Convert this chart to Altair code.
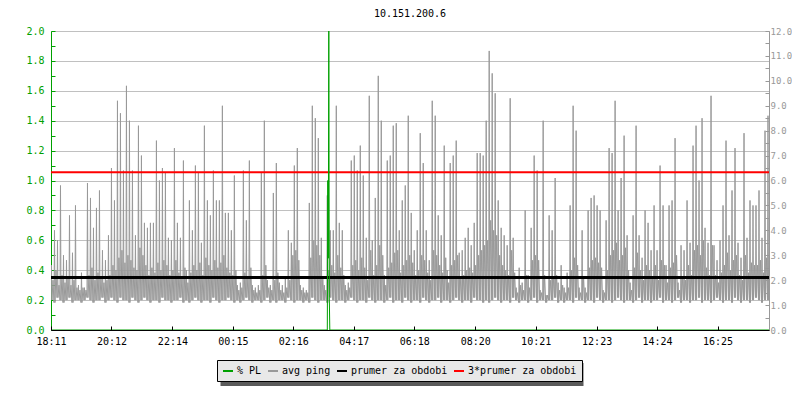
import altair as alt
import pandas as pd

title_text = "10.151.200.6"
tick_minutes = [0, 121, 243, 364, 485, 606, 727, 849, 970, 1092, 1213, 1334]
tick_labels = ["18:11", "20:12", "22:14", "00:15", "02:16", "04:17",
               "06:18", "08:20", "10:21", "12:23", "14:24", "16:25"]
span_minutes = 1437
column_minutes = 6

# avg ping (ms), per 6-minute column: tallest spike, dense-band top, trough
ping_peak_ms = [
    2.6, 4.0, 3.6, 5.8, 3.0, 2.8, 4.6, 3.1, 5.0, 1.8, 2.3, 1.7, 5.9, 5.3, 4.1, 4.9, 5.6, 3.2, 2.8, 3.8,
    6.5, 5.2, 9.2, 8.7, 6.4, 9.8, 8.4, 6.4, 3.8, 8.2, 7.0, 4.3, 4.1, 4.3, 4.3, 7.6, 6.0, 6.5, 6.3, 3.7,
    3.6, 7.3, 4.3, 3.7, 6.8, 2.4, 5.2, 4.0, 6.6, 6.3, 3.5, 8.2, 5.2, 4.6, 6.4, 5.2, 5.2, 9.0, 4.7, 4.7,
    4.0, 6.2, 1.8, 1.9, 6.4, 4.4, 6.8, 1.8, 1.7, 1.8, 6.3, 8.4, 2.0, 1.8, 5.5, 6.7, 1.9, 1.8, 2.1, 4.0,
    3.5, 6.6, 7.3, 1.8, 1.7, 1.6, 5.1, 9.0, 8.5, 7.7, 3.7, 1.8, 5.4, 4.0, 4.0, 9.0, 4.3, 4.0, 1.8, 1.9,
    6.8, 7.0, 6.4, 7.4, 6.2, 3.7, 9.4, 3.6, 5.3, 10.2, 8.4, 2.2, 6.8, 7.0, 8.2, 8.3, 4.0, 5.2, 5.8, 8.6,
    4.7, 3.2, 4.0, 7.9, 6.7, 4.0, 2.8, 9.2, 8.6, 4.6, 3.8, 7.4, 2.4, 6.7, 7.0, 7.6, 3.1, 3.2, 3.7, 4.1,
    3.4, 4.3, 7.1, 7.1, 7.0, 8.4, 11.2, 10.3, 9.5, 5.2, 4.1, 3.8, 3.4, 9.3, 3.7, 1.7, 2.5, 1.9, 4.8, 2.2,
    4.1, 7.0, 6.4, 1.6, 8.4, 1.4, 4.6, 4.0, 6.1, 1.9, 2.6, 1.7, 2.3, 5.0, 9.0, 8.0, 1.7, 4.0, 1.7, 4.8,
    5.3, 5.4, 5.0, 4.8, 1.6, 4.4, 7.3, 7.1, 9.2, 4.8, 6.1, 7.8, 3.8, 1.9, 4.6, 8.2, 3.8, 2.9, 4.8, 4.3,
    3.2, 5.0, 3.2, 6.6, 5.0, 2.6, 5.0, 5.2, 7.7, 1.9, 3.4, 3.2, 5.2, 3.5, 7.4, 8.2, 6.0, 8.5, 4.1, 3.5,
    9.4, 3.4, 2.8, 3.6, 5.0, 7.6, 3.8, 5.6, 7.3, 3.5, 2.9, 7.9, 3.7, 5.2, 5.0, 5.0, 5.6, 3.7, 8.0, 8.6,
]
ping_band_ms = [
    2.0, 2.4, 1.8, 2.2, 1.9, 2.1, 1.8, 2.0, 1.7, 1.6, 1.7, 1.6, 2.2, 2.5, 2.0, 2.3, 2.1, 1.9, 2.0, 2.2,
    2.6, 2.4, 2.9, 3.2, 2.7, 3.0, 2.8, 2.5, 2.4, 3.3, 3.0, 2.6, 2.2, 2.5, 2.3, 2.7, 2.4, 2.8, 2.6, 2.2,
    2.4, 2.8, 2.3, 2.1, 2.5, 1.9, 2.3, 2.6, 2.4, 2.7, 2.2, 2.9, 2.6, 2.4, 2.8, 2.5, 2.7, 3.0, 2.5, 2.3,
    2.2, 2.4, 1.6, 1.7, 2.3, 2.1, 2.5, 1.6, 1.5, 1.6, 2.2, 2.6, 1.7, 1.6, 2.0, 2.3, 1.6, 1.5, 1.7, 2.0,
    3.0, 3.2, 2.8, 1.6, 1.5, 1.5, 2.9, 3.6, 3.4, 3.0, 2.1, 1.6, 2.4, 2.6, 2.3, 3.0, 2.5, 2.2, 1.6, 1.7,
    2.6, 2.8, 2.4, 2.9, 2.5, 2.0, 3.2, 2.2, 2.6, 3.4, 3.0, 1.8, 2.5, 2.7, 3.1, 3.2, 2.3, 2.6, 2.8, 3.0,
    2.7, 2.2, 2.4, 3.0, 2.8, 2.3, 2.0, 3.2, 3.0, 2.6, 2.3, 2.9, 1.9, 2.6, 2.8, 3.0, 2.1, 2.2, 2.4, 2.5,
    2.3, 2.6, 3.0, 3.2, 3.4, 3.6, 4.4, 4.0, 3.8, 3.0, 2.6, 2.4, 2.2, 3.2, 2.3, 1.5, 1.8, 1.6, 2.2, 1.7,
    2.8, 3.0, 2.8, 1.5, 2.2, 1.4, 2.0, 2.1, 2.2, 1.6, 1.8, 1.5, 1.7, 2.4, 2.9, 2.6, 1.5, 2.1, 1.5, 2.5,
    2.8, 2.9, 2.7, 2.5, 1.5, 2.4, 3.0, 3.2, 3.5, 2.8, 3.0, 3.3, 2.4, 1.6, 2.5, 3.1, 2.4, 2.0, 2.6, 2.4,
    2.1, 2.6, 2.0, 2.8, 2.6, 1.9, 2.5, 2.7, 3.0, 1.6, 2.1, 2.0, 2.6, 2.2, 3.2, 3.4, 3.0, 3.6, 2.5, 2.2,
    3.4, 2.2, 1.9, 2.3, 2.6, 3.1, 2.4, 2.8, 3.0, 2.2, 2.0, 3.0, 2.3, 2.7, 2.6, 2.6, 2.8, 2.3, 2.9, 3.2,
]
ping_low_ms = [
    1.2, 1.1, 1.3, 1.2, 1.1, 1.2, 1.3, 1.1, 1.2, 1.2, 1.1, 1.2, 1.3, 1.2, 1.1, 1.2, 1.2, 1.3, 1.1, 1.2,
    1.3, 1.2, 1.1, 1.3, 1.2, 1.2, 1.1, 1.3, 1.2, 1.1, 1.2, 1.3, 1.2, 1.1, 1.2, 1.2, 1.1, 1.3, 1.2, 1.2,
    1.1, 1.2, 1.2, 1.3, 1.1, 1.2, 1.1, 1.2, 1.3, 1.2, 1.1, 1.2, 1.2, 1.1, 1.3, 1.2, 1.1, 1.2, 1.2, 1.3,
    1.2, 1.1, 1.2, 1.1, 1.2, 1.3, 1.2, 1.1, 1.2, 1.2, 1.1, 1.2, 1.3, 1.1, 1.2, 1.1, 1.2, 1.2, 1.1, 1.3,
    1.2, 1.1, 1.2, 1.2, 1.1, 1.2, 1.1, 1.3, 1.2, 1.1, 1.2, 1.2, 1.1, 1.3, 1.2, 1.1, 1.2, 1.2, 1.1, 1.2,
    1.3, 1.2, 1.1, 1.2, 1.2, 1.1, 1.3, 1.2, 1.1, 1.2, 1.2, 1.1, 1.2, 1.3, 1.1, 1.2, 1.2, 1.1, 1.3, 1.2,
    1.1, 1.2, 1.2, 1.1, 1.3, 1.2, 1.1, 1.2, 1.2, 1.3, 1.1, 1.2, 1.2, 1.1, 1.2, 1.3, 1.2, 1.1, 1.2, 1.2,
    1.1, 1.3, 1.2, 1.2, 1.1, 1.2, 1.1, 1.2, 1.3, 1.2, 1.1, 1.2, 1.2, 1.1, 1.3, 1.2, 1.1, 1.2, 1.2, 1.1,
    1.2, 1.3, 1.1, 1.2, 1.2, 1.1, 1.2, 1.2, 1.3, 1.1, 1.2, 1.1, 1.2, 1.2, 1.1, 1.3, 1.2, 1.2, 1.1, 1.2,
    1.2, 1.1, 1.3, 1.2, 1.1, 1.2, 1.2, 1.1, 1.2, 1.3, 1.2, 1.1, 1.2, 1.2, 1.1, 1.2, 1.3, 1.1, 1.2, 1.2,
    1.1, 1.2, 1.2, 1.3, 1.1, 1.2, 1.2, 1.1, 1.2, 1.3, 1.1, 1.2, 1.2, 1.1, 1.2, 1.2, 1.3, 1.1, 1.2, 1.2,
    1.1, 1.2, 1.3, 1.2, 1.1, 1.2, 1.2, 1.1, 1.3, 1.2, 1.1, 1.2, 1.2, 1.1, 1.2, 1.3, 1.2, 1.1, 1.2, 1.2,
]

# packet loss (%), left axis
pl_minutes = [0, 553, 554, 555, 556, 557, 558, span_minutes]
pl_percent = [0, 0, 1.0, 0.48, 2.0, 0.22, 0, 0]

mean_ping_ms = 2.11

series_names = ["% PL", "avg ping", "prumer za obdobi", "3*prumer za obdobi"]
series_colors = ["#00a000", "#999999", "#000000", "#ff0000"]

FONT = "DejaVu Sans Mono"

# ---- tables ----
ping_rows = []
for i, (hi, band, lo) in enumerate(zip(ping_peak_ms, ping_band_ms, ping_low_ms)):
    t0 = i * column_minutes
    ping_rows += [
        {"t": t0, "ms": lo, "series": "avg ping"},
        {"t": t0 + 1, "ms": hi, "series": "avg ping"},
        {"t": t0 + 2, "ms": lo, "series": "avg ping"},
        {"t": t0 + 4, "ms": band, "series": "avg ping"},
    ]
ping_df = pd.DataFrame(ping_rows)
pl_df = pd.DataFrame({"t": pl_minutes, "pl": pl_percent, "series": "% PL"})
mean_df = pd.DataFrame({"ms": [mean_ping_ms], "series": ["prumer za obdobi"]})
mean3_df = pd.DataFrame({"ms": [3 * mean_ping_ms], "series": ["3*prumer za obdobi"]})

label_expr = "[" + ",".join("'%s'" % s for s in tick_labels) + "][indexof([" + \
    ",".join(str(m) for m in tick_minutes) + "], datum.value)]"

x_axis = alt.Axis(values=tick_minutes, labelExpr=label_expr, title=None, grid=False,
                  domainColor="#000000", tickColor="#000000", labelColor="#000000",
                  labelFont=FONT, labelFontSize=10, labelFlush=False,
                  tickSize={"expr": "-4"}, labelPadding=10, zindex=1, labelOverlap=False)
x_scale = alt.Scale(domain=[0, span_minutes], nice=False, zero=False)


def x_enc():
    return alt.X("t:Q", scale=x_scale, axis=x_axis)


color_enc = alt.Color("series:N",
                      scale=alt.Scale(domain=series_names, range=series_colors),
                      legend=alt.Legend(orient="none", legendX=166, legendY=329,
                                        direction="horizontal", title=None,
                                        symbolType="stroke", symbolSize=100, symbolStrokeWidth=2,
                                        labelFont=FONT, labelFontSize=10, labelColor="#000000",
                                        fillColor="#e8e8e8", strokeColor="#000000",
                                        padding=5, columnPadding=2, labelOffset=3))

ms_scale = alt.Scale(domain=[0, 12], nice=False, zero=True)
right_vals = [v / 2 for v in range(25)]
left_vals = [v / 10 for v in range(21)]

right_axis = alt.Axis(orient="right", values=right_vals, title=None, grid=False,
                      labelExpr="datum.value % 1 == 0 ? format(datum.value, '.1f') : ''",
                      domainColor="#999999", tickColor="#999999", labelColor="#999999",
                      labelFont=FONT, labelFontSize=9, tickSize={"expr": "-4"},
                      labelPadding=5, labelOverlap=False)


def ms_enc():
    return alt.Y("ms:Q", scale=ms_scale, axis=right_axis)


ping_line = alt.Chart(ping_df).mark_line(strokeWidth=1, clip=True).encode(
    x=x_enc(), y=ms_enc(), color=color_enc)
mean_rule = alt.Chart(mean_df).mark_rule(strokeWidth=3).encode(y=ms_enc(), color=color_enc)
mean3_rule = alt.Chart(mean3_df).mark_rule(strokeWidth=2).encode(y=ms_enc(), color=color_enc)

ping_layer = alt.layer(ping_line, mean_rule, mean3_rule)

pl_line = alt.Chart(pl_df).mark_line(strokeWidth=1, clip=True).encode(
    x=x_enc(),
    y=alt.Y("pl:Q", scale=alt.Scale(domain=[0, 2], nice=False),
            axis=alt.Axis(orient="left", values=left_vals, title=None,
                          labelExpr="round(datum.value * 10) % 2 == 0 ? format(datum.value, '.1f') : ''",
                          grid=True, gridColor="#c0c0c0",
                          gridOpacity={"condition": {"test": "round(datum.value * 10) % 2 == 1", "value": 0}, "value": 1},
                          domainColor="#00a000", tickColor="#00a000", labelColor="#00a000",
                          labelFont=FONT, labelFontSize=10, tickSize={"expr": "-4"},
                          labelPadding=11, labelOverlap=False)),
    color=color_enc,
)

shadow = alt.Chart(pd.DataFrame({"k": [0]})).mark_rect(color="#5a5a5a", clip=False).encode(
    x=alt.value(169.5), x2=alt.value(532.5), y=alt.value(332), y2=alt.value(355))

chart = alt.layer(shadow, ping_layer, pl_line).resolve_scale(y="independent").properties(
    width=718, height=299,
    title=alt.TitleParams(title_text, font=FONT, fontSize=10, fontWeight="normal",
                          color="#000000", anchor="middle", frame="group", offset=7),
    autosize=alt.AutoSizeParams(type="none"),
    padding={"left": 43, "top": 23, "right": 23, "bottom": 60},
).configure_view(stroke=None).configure(background="#ffffff")

chart.save("out.html", embed_options={"renderer": "svg", "actions": False})
